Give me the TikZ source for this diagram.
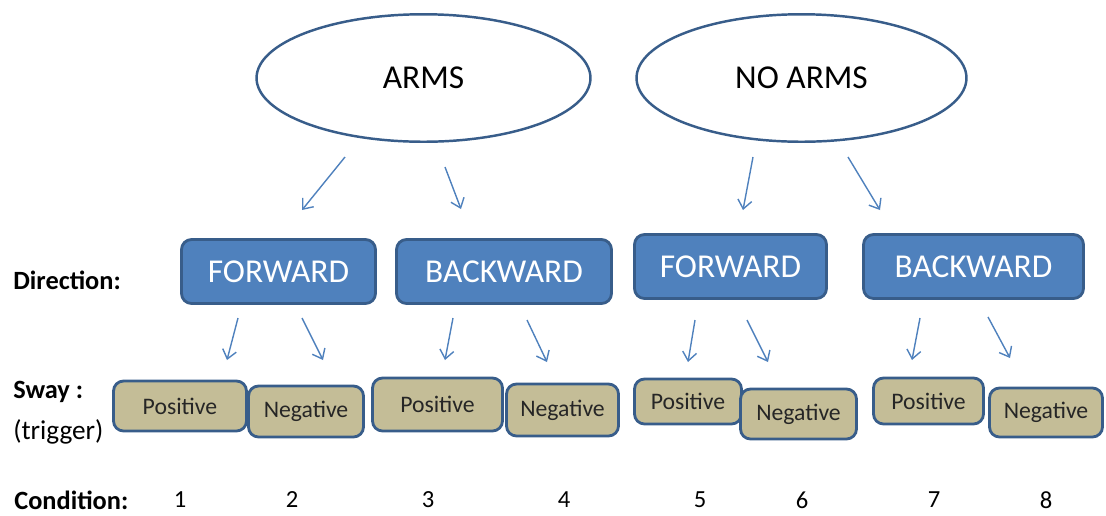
\documentclass[tikz,border=0pt]{standalone}
\usepackage{fontspec}
\setmainfont{Carlito}
\usepackage{xcolor}
\usepackage{tikz}
\usetikzlibrary{shapes,arrows,positioning,calc,arrows.meta}

\definecolor{boxblue}{HTML}{4F81BD}
\definecolor{edgeblue}{HTML}{385D8A}
\definecolor{tanfill}{HTML}{C4BD97}

\begin{document}
\begin{tikzpicture}[x=0.02cm,y=-0.02cm,
    group/.style={ellipse,draw=edgeblue,line width=1.4pt,fill=white,
        minimum height=2.55cm,font=\fontsize{19}{23}\selectfont},
    dirbox/.style={rectangle,rounded corners=0.2cm,draw=edgeblue,line width=1.6pt,
        fill=boxblue,text=white,minimum height=1.28cm,font=\fontsize{19}{23}\selectfont},
    swaybox/.style={rectangle,rounded corners=0.2cm,draw=edgeblue,line width=1.6pt,
        fill=tanfill,text=black!85,font=\fontsize{13.5}{16}\selectfont},
    rowlabel/.style={anchor=west,inner sep=0pt,font=\fontsize{15}{18}\selectfont\bfseries},
    arr/.style={draw=boxblue,line width=0.8pt,-{Straight Barb[length=5pt,width=8pt]}}]
    \useasboundingbox (0,0) rectangle (1106,515);

    \node[group,minimum width=6.68cm] (arms) at (423.5,78) {ARMS};
    \node[group,minimum width=6.6cm] (noarms) at (801.5,78) {NO ARMS};

    \node[dirbox,minimum width=3.88cm] (fwdA) at (278.5,271.5) {FORWARD};
    \node[dirbox,minimum width=4.3cm] (bwdA) at (504,271.5) {BACKWARD};
    \node[dirbox,minimum width=3.84cm] (fwdB) at (730.5,266.5) {FORWARD};
    \node[dirbox,minimum width=4.4cm] (bwdB) at (973.5,266.5) {BACKWARD};

    \node[swaybox,minimum width=2.66cm,minimum height=1cm] (posA) at (180,406) {Positive};
    \node[swaybox,minimum width=2.6cm,minimum height=1.06cm] (posB) at (437.5,404.5) {Positive};
    \node[swaybox,minimum width=2.14cm,minimum height=0.9cm] (posC) at (688,401.5) {Positive};
    \node[swaybox,minimum width=2.2cm,minimum height=0.92cm] (posD) at (928.5,401) {Positive};
    \node[swaybox,minimum width=2.3cm,minimum height=1.02cm] (negA) at (306,411.5) {Negative};
    \node[swaybox,minimum width=2.24cm,minimum height=1.04cm] (negB) at (562.5,410) {Negative};
    \node[swaybox,minimum width=2.32cm,minimum height=1cm] (negC) at (798.5,414) {Negative};
    \node[swaybox,minimum width=2.26cm,minimum height=0.98cm] (negD) at (1046,412.5) {Negative};

    \node[rowlabel] (dirlabel) at (13,280) {Direction:};
    \node[rowlabel] (swaylabel) at (13,392) {Sway :};
    \node[rowlabel,font=\fontsize{15.5}{18}\selectfont] (triglabel) at (13,432) {(trigger)};
    \node[rowlabel] (condlabel) at (14,500) {Condition:};

    \foreach \n/\x in {1/180,2/292,3/428,4/564,5/700,6/802,7/934,8/1046}
        \node[font=\fontsize{14}{17}\selectfont] (cond\n) at (\x,500) {\n};

    \foreach \n/\sx/\sy/\ex/\ey in {a/345/157/302/210,b/445/167/461/209,
        c/753/157/743/210,d/848/157/880/210,
        e/238/318/227/360,f/302/318/323/360,
        g/453/318/445/360,h/527/320/547/362,
        i/695/320/688/362,j/747/320/768/362,
        k/920/318/912/360,l/988/317/1010/358}{
        \coordinate (\n s) at (\sx,\sy);
        \coordinate (\n e) at (\ex,\ey);
        \draw[arr] (\n s) -- (\n e);
    }
\end{tikzpicture}
\end{document}
